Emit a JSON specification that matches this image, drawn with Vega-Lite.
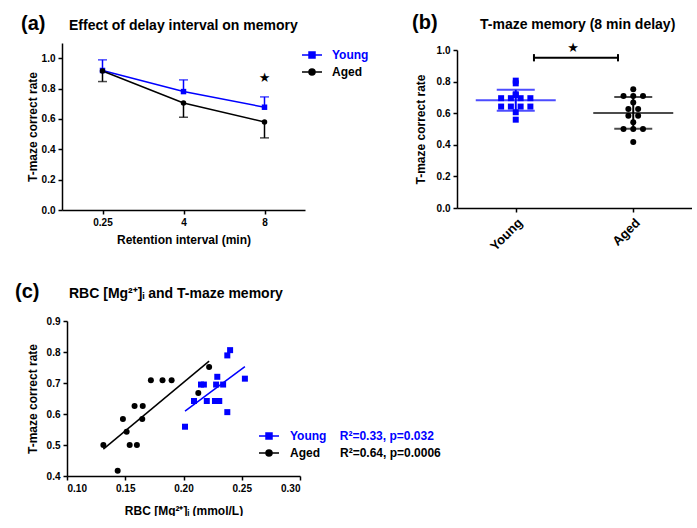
{
  "$schema": "https://vega.github.io/schema/vega-lite/v6.json",
  "background": "white",
  "padding": {"left": 15, "top": 12, "right": 0, "bottom": 0},
  "bounds": "full",
  "spacing": 28,
  "config": {
    "font": "Liberation Sans",
    "view": {"stroke": null},
    "axis": {
      "grid": false,
      "domainColor": "black", "domainWidth": 1.5,
      "tickColor": "black", "tickWidth": 1.5, "tickSize": 4,
      "labelFont": "Liberation Sans", "labelFontWeight": "bold", "labelFontSize": 10, "labelColor": "black", "labelPadding": 3, "labelOverlap": false,
      "titleFont": "Liberation Sans", "titleFontWeight": "bold", "titleFontSize": 12, "titleColor": "black"
    },
    "title": {"font": "Liberation Sans", "fontWeight": "bold", "color": "black", "anchor": "start", "frame": "group"},
    "legend": {"labelFont": "Liberation Sans", "labelFontWeight": "bold", "labelFontSize": 12, "labelColor": "black", "labelLimit": 300}
  },
  "resolve": {"scale": {"color": "independent", "shape": "independent"}, "legend": {"color": "independent", "shape": "independent"}},
  "datasets": {
    "timecourse": [
      {"interval": "0.25", "group": "Young", "mean": 0.919, "bound": 0.989},
      {"interval": "4", "group": "Young", "mean": 0.780, "bound": 0.857},
      {"interval": "8", "group": "Young", "mean": 0.677, "bound": 0.745},
      {"interval": "0.25", "group": "Aged", "mean": 0.916, "bound": 0.846},
      {"interval": "4", "group": "Aged", "mean": 0.705, "bound": 0.611},
      {"interval": "8", "group": "Aged", "mean": 0.580, "bound": 0.475}
    ],
    "rats": [
      {"group": "Young", "mg": 0.2013, "rate": 0.559},
      {"group": "Young", "mg": 0.209, "rate": 0.642},
      {"group": "Young", "mg": 0.215, "rate": 0.695},
      {"group": "Young", "mg": 0.2175, "rate": 0.695},
      {"group": "Young", "mg": 0.220, "rate": 0.642},
      {"group": "Young", "mg": 0.229, "rate": 0.720},
      {"group": "Young", "mg": 0.228, "rate": 0.695},
      {"group": "Young", "mg": 0.234, "rate": 0.695},
      {"group": "Young", "mg": 0.227, "rate": 0.642},
      {"group": "Young", "mg": 0.2307, "rate": 0.642},
      {"group": "Young", "mg": 0.2376, "rate": 0.606},
      {"group": "Young", "mg": 0.2376, "rate": 0.789},
      {"group": "Young", "mg": 0.240, "rate": 0.806},
      {"group": "Young", "mg": 0.2527, "rate": 0.714},
      {"group": "Aged", "mg": 0.1312, "rate": 0.500},
      {"group": "Aged", "mg": 0.1435, "rate": 0.417},
      {"group": "Aged", "mg": 0.148, "rate": 0.584},
      {"group": "Aged", "mg": 0.1512, "rate": 0.543},
      {"group": "Aged", "mg": 0.1538, "rate": 0.500},
      {"group": "Aged", "mg": 0.160, "rate": 0.500},
      {"group": "Aged", "mg": 0.158, "rate": 0.626},
      {"group": "Aged", "mg": 0.165, "rate": 0.626},
      {"group": "Aged", "mg": 0.1646, "rate": 0.584},
      {"group": "Aged", "mg": 0.172, "rate": 0.709},
      {"group": "Aged", "mg": 0.182, "rate": 0.709},
      {"group": "Aged", "mg": 0.1898, "rate": 0.709},
      {"group": "Aged", "mg": 0.2127, "rate": 0.668},
      {"group": "Aged", "mg": 0.222, "rate": 0.752}
    ]
  },
  "vconcat": [
    {
      "spacing": 43,
      "resolve": {"scale": {"color": "independent", "shape": "independent"}, "legend": {"color": "independent", "shape": "independent"}},
      "hconcat": [
        {
          "title": {"text": "(a)", "fontSize": 20, "dx": -41, "offset": -15},
          "vconcat": [
            {
              "width": 243, "height": 167,
              "title": {"text": "Effect of delay interval on memory", "fontSize": 14, "dx": 7, "offset": 10.5},
              "layer": [
                {
                  "data": {"name": "timecourse"},
                  "encoding": {
                    "x": {"field": "interval", "type": "ordinal", "sort": ["0.25", "4", "8"], "scale": {"type": "point", "padding": 0.5}, "axis": {"title": "Retention interval (min)", "labelAngle": 0, "titlePadding": 7}},
                    "y": {"field": "mean", "type": "quantitative", "title": "T-maze correct rate", "scale": {"domain": [0, 1.1], "nice": false}, "axis": {"values": [0, 0.2, 0.4, 0.6, 0.8, 1.0], "format": ".1f", "titlePadding": 2, "labelOverlap": false}},
                    "color": {
                      "field": "group", "type": "nominal",
                      "scale": {"domain": ["Young", "Aged"], "range": ["#0000ff", "#000000"]},
                      "legend": {
                        "title": null, "orient": "none", "legendX": 239, "legendY": 1,
                        "symbolSize": 400, "symbolStrokeWidth": 1.5, "labelOffset": 9, "rowPadding": -1,
                        "encode": {
                          "symbols": {"update": {
                            "shape": {"signal": "datum.value === 'Young' ? 'M-1,0H1M-0.3,-0.3H0.3V0.3H-0.3Z' : 'M-1,0H1M0.3,0A0.3,0.3,0,1,1,-0.3,0A0.3,0.3,0,1,1,0.3,0'"},
                            "fill": {"signal": "datum.value === 'Young' ? '#0000ff' : '#000000'"},
                            "stroke": {"signal": "datum.value === 'Young' ? '#0000ff' : '#000000'"},
                            "strokeWidth": {"value": 1.5}, "opacity": {"value": 1}
                          }},
                          "labels": {"update": {"fill": {"signal": "datum.value === 'Young' ? '#0000ff' : '#000000'"}}}
                        }
                      }
                    }
                  },
                  "layer": [
                    {"mark": {"type": "line", "strokeWidth": 1.5}},
                    {"mark": {"type": "rule", "strokeWidth": 1.5}, "encoding": {"y2": {"field": "bound"}}},
                    {"mark": {"type": "tick", "orient": "horizontal", "size": 9, "thickness": 1.5}, "encoding": {"y": {"field": "bound", "type": "quantitative"}}},
                    {"transform": [{"filter": "datum.group === 'Young'"}], "mark": {"type": "point", "shape": "square", "filled": true, "opacity": 1, "size": 30}},
                    {"transform": [{"filter": "datum.group === 'Aged'"}], "mark": {"type": "point", "shape": "circle", "filled": true, "opacity": 1, "size": 30}}
                  ]
                },
                {
                  "data": {"values": [{}]},
                  "mark": {"type": "text", "text": "★", "font": "DejaVu Sans", "fontSize": 13, "align": "center", "baseline": "middle", "color": "black"},
                  "encoding": {
                    "x": {"datum": "8", "type": "ordinal", "title": "Retention interval (min)"},
                    "y": {"datum": 0.868, "type": "quantitative", "title": "T-maze correct rate", "axis": {"values": [0, 0.2, 0.4, 0.6, 0.8, 1.0], "format": ".1f", "titlePadding": 2, "labelOverlap": false}}
                  }
                }
              ]
            }
          ]
        },
        {
          "title": {"text": "(b)", "fontSize": 20, "dx": -45, "offset": -15},
          "vconcat": [
            {
              "width": 235, "height": 165,
              "title": {"text": "T-maze memory (8 min delay)", "fontSize": 14, "dx": 23, "offset": 10},
              "layer": [
                {
                  "data": {"name": "rats"},
                  "encoding": {
                    "x": {"field": "gx", "type": "quantitative", "title": null, "scale": {"domain": [0.5, 2.5], "nice": false, "zero": false}, "axis": {"values": [1, 2], "labelExpr": "datum.value === 1 ? 'Young' : 'Aged'", "labelAngle": -45, "labelFontSize": 13, "labelPadding": 4}},
                    "y": {"field": "rate", "type": "quantitative", "title": "T-maze correct rate", "scale": {"domain": [0, 1], "nice": false, "range": [165, 7]}, "axis": {"values": [0, 0.2, 0.4, 0.6, 0.8, 1.0], "format": ".1f", "titlePadding": 9, "labelOverlap": false}}
                  },
                  "layer": [
                    {
                      "transform": [
                        {"window": [{"op": "row_number", "as": "rk"}, {"op": "count", "as": "cnt"}], "groupby": ["group", "rate"], "sort": [{"field": "mg"}], "frame": [null, null]},
                        {"calculate": "(datum.group === 'Young' ? 1 : 2) + (datum.rk - (datum.cnt + 1) / 2) * 0.083", "as": "gx"}
                      ],
                      "mark": {"type": "point", "filled": true, "opacity": 1, "size": 36},
                      "encoding": {
                        "color": {"field": "group", "type": "nominal", "scale": {"domain": ["Young", "Aged"], "range": ["#0000ff", "#000000"]}, "legend": null},
                        "shape": {"field": "group", "type": "nominal", "scale": {"domain": ["Young", "Aged"], "range": ["square", "circle"]}, "legend": null}
                      }
                    },
                    {
                      "transform": [
                        {"aggregate": [{"op": "mean", "field": "rate", "as": "rate"}, {"op": "stdev", "field": "rate", "as": "sd"}], "groupby": ["group"]},
                        {"calculate": "datum.group === 'Young' ? 1 : 2", "as": "gx"},
                        {"calculate": "datum.rate - datum.sd", "as": "lo"},
                        {"calculate": "datum.rate + datum.sd", "as": "hi"}
                      ],
                      "encoding": {"color": {"field": "group", "type": "nominal", "legend": null}},
                      "layer": [
                        {"mark": {"type": "tick", "orient": "horizontal", "size": 80, "thickness": 2}},
                        {"mark": {"type": "tick", "orient": "horizontal", "size": 38, "thickness": 2}, "encoding": {"y": {"field": "lo", "type": "quantitative"}}},
                        {"mark": {"type": "tick", "orient": "horizontal", "size": 38, "thickness": 2}, "encoding": {"y": {"field": "hi", "type": "quantitative"}}},
                        {"mark": {"type": "rule", "strokeWidth": 2}, "encoding": {"y": {"field": "lo", "type": "quantitative"}, "y2": {"field": "hi"}}}
                      ]
                    }
                  ]
                },
                {
                  "data": {"values": [{}]},
                  "mark": {"type": "rule", "strokeWidth": 2, "color": "black"},
                  "encoding": {
                    "x": {"datum": 1.155, "type": "quantitative", "title": null, "axis": {"values": [1, 2], "labelExpr": "datum.value === 1 ? 'Young' : 'Aged'", "labelAngle": -45, "labelFontSize": 13, "labelPadding": 4}},
                    "x2": {"datum": 1.87},
                    "y": {"datum": 0.951, "type": "quantitative", "title": "T-maze correct rate", "axis": {"values": [0, 0.2, 0.4, 0.6, 0.8, 1.0], "format": ".1f", "titlePadding": 9, "labelOverlap": false}}
                  }
                },
                {
                  "data": {"values": [{}]},
                  "mark": {"type": "rule", "strokeWidth": 2, "color": "black"},
                  "encoding": {
                    "x": {"datum": 1.155, "type": "quantitative", "title": null, "axis": {"values": [1, 2], "labelExpr": "datum.value === 1 ? 'Young' : 'Aged'", "labelAngle": -45, "labelFontSize": 13, "labelPadding": 4}},
                    "y": {"datum": 0.928, "type": "quantitative", "title": "T-maze correct rate", "axis": {"values": [0, 0.2, 0.4, 0.6, 0.8, 1.0], "format": ".1f", "titlePadding": 9, "labelOverlap": false}},
                    "y2": {"datum": 0.974}
                  }
                },
                {
                  "data": {"values": [{}]},
                  "mark": {"type": "rule", "strokeWidth": 2, "color": "black"},
                  "encoding": {
                    "x": {"datum": 1.87, "type": "quantitative", "title": null, "axis": {"values": [1, 2], "labelExpr": "datum.value === 1 ? 'Young' : 'Aged'", "labelAngle": -45, "labelFontSize": 13, "labelPadding": 4}},
                    "y": {"datum": 0.928, "type": "quantitative", "title": "T-maze correct rate", "axis": {"values": [0, 0.2, 0.4, 0.6, 0.8, 1.0], "format": ".1f", "titlePadding": 9, "labelOverlap": false}},
                    "y2": {"datum": 0.974}
                  }
                },
                {
                  "data": {"values": [{}]},
                  "mark": {"type": "text", "text": "★", "font": "DejaVu Sans", "fontSize": 13, "align": "center", "baseline": "middle", "color": "black"},
                  "encoding": {
                    "x": {"datum": 1.487, "type": "quantitative", "title": null, "axis": {"values": [1, 2], "labelExpr": "datum.value === 1 ? 'Young' : 'Aged'", "labelAngle": -45, "labelFontSize": 13, "labelPadding": 4}},
                    "y": {"datum": 1.013, "type": "quantitative", "title": "T-maze correct rate", "axis": {"values": [0, 0.2, 0.4, 0.6, 0.8, 1.0], "format": ".1f", "titlePadding": 9, "labelOverlap": false}}
                  }
                }
              ]
            }
          ]
        }
      ]
    },
    {
      "title": {"text": "(c)", "fontSize": 20, "dx": -47, "offset": -15},
      "vconcat": [
        {
          "width": 238, "height": 155,
          "title": {"text": "RBC [Mg\u00b2\u207a]\u1d62 and T-maze memory", "fontSize": 14, "dx": 7, "offset": 15},
          "data": {"name": "rats"},
          "encoding": {
            "x": {"field": "mg", "type": "quantitative", "title": "RBC [Mg\u00b2\u207a]\u1d62 (mmol/L)", "scale": {"domain": [0.1, 0.3], "nice": false, "zero": false, "range": [5, 238]}, "axis": {"values": [0.1, 0.15, 0.2, 0.25, 0.3], "format": ".2f", "titlePadding": 12}},
            "y": {"field": "rate", "type": "quantitative", "title": "T-maze correct rate", "scale": {"domain": [0.4, 0.9], "nice": false, "zero": false}, "axis": {"values": [0.4, 0.5, 0.6, 0.7, 0.8, 0.9], "format": ".1f", "titlePadding": 7, "offset": -5, "labelOverlap": false}},
            "color": {
              "field": "group", "type": "nominal",
              "scale": {"domain": ["Young", "Aged"], "range": ["#0000ff", "#000000"]},
              "legend": {
                "title": null, "orient": "none", "legendX": 196, "legendY": 104,
                "symbolSize": 400, "symbolStrokeWidth": 1.5, "labelOffset": 10, "rowPadding": -1,
                "labelExpr": "datum.value === 'Young' ? 'Young\u00a0\u00a0\u00a0\u00a0R\u00b2=0.33, p=0.032' : 'Aged\u00a0\u00a0\u00a0\u00a0\u00a0\u00a0R\u00b2=0.64, p=0.0006'",
                "encode": {
                  "symbols": {"update": {
                    "shape": {"signal": "datum.value === 'Young' ? 'M-1,0H1M-0.3,-0.3H0.3V0.3H-0.3Z' : 'M-1,0H1M0.3,0A0.3,0.3,0,1,1,-0.3,0A0.3,0.3,0,1,1,0.3,0'"},
                    "fill": {"signal": "datum.value === 'Young' ? '#0000ff' : '#000000'"},
                    "stroke": {"signal": "datum.value === 'Young' ? '#0000ff' : '#000000'"},
                    "strokeWidth": {"value": 1.5}, "opacity": {"value": 1}
                  }},
                  "labels": {"update": {"fill": {"signal": "datum.value === 'Young' ? '#0000ff' : '#000000'"}}}
                }
              }
            }
          },
          "layer": [
            {
              "transform": [{"regression": "rate", "on": "mg", "groupby": ["group"]}],
              "mark": {"type": "line", "strokeWidth": 1.5}
            },
            {
              "transform": [{"filter": "datum.group === 'Young'"}],
              "mark": {"type": "point", "shape": "square", "filled": true, "opacity": 1, "size": 36}
            },
            {
              "transform": [{"filter": "datum.group === 'Aged'"}],
              "mark": {"type": "point", "shape": "circle", "filled": true, "opacity": 1, "size": 36}
            }
          ]
        }
      ]
    }
  ]
}
